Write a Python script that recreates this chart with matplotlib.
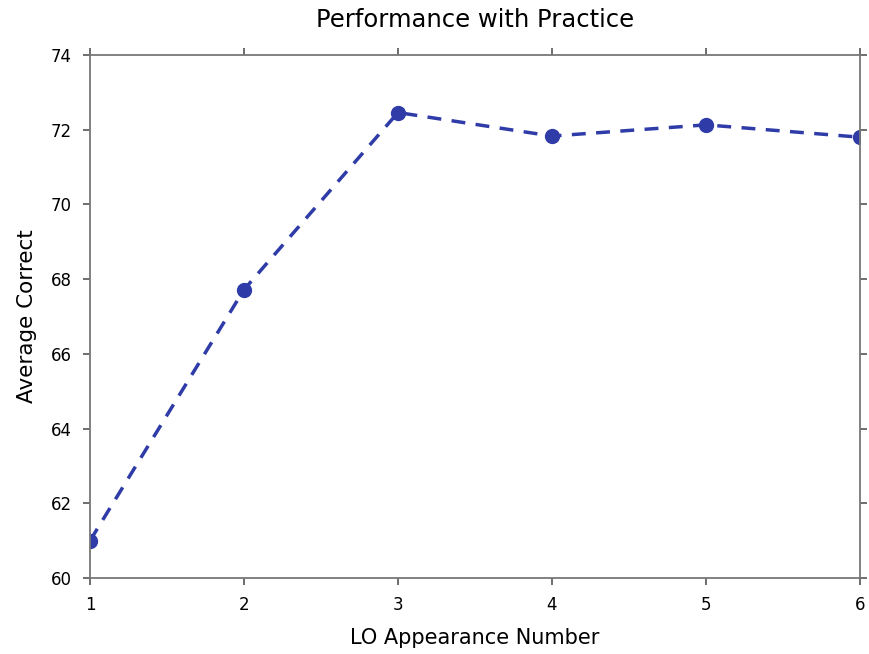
import matplotlib
matplotlib.use("Agg")
import matplotlib.pyplot as plt

# Average correct by appearance number
appearance = [1, 2, 3, 4, 5, 6]
avg_correct = [61.0, 67.72, 72.46, 71.83, 72.13, 71.8]

fig = plt.figure(figsize=(8.69, 6.54), dpi=100)
ax = fig.add_axes([0.1036, 0.1162, 0.886, 0.7997])

ax.plot(appearance, avg_correct, linestyle="--", color="#2f3ca8", linewidth=2.5,
        marker="o", markersize=10, dashes=(4, 3))

ax.set_xlim(1, 6)
ax.set_ylim(60, 74)
ax.set_xticks(appearance)
ax.set_yticks(range(60, 75, 2))

ax.set_title("Performance with Practice", fontsize=17.5, pad=20)
ax.set_xlabel("LO Appearance Number", fontsize=15, labelpad=10)
ax.set_ylabel("Average Correct", fontsize=15.5, labelpad=10)

for s in ax.spines.values():
    s.set_color("#777777")
    s.set_linewidth(1.3)
ax.tick_params(direction="out", top=True, right=True, length=5, width=1.2,
               color="#555555", labelsize=12, pad=8)

plt.savefig("out.png", dpi=100)
